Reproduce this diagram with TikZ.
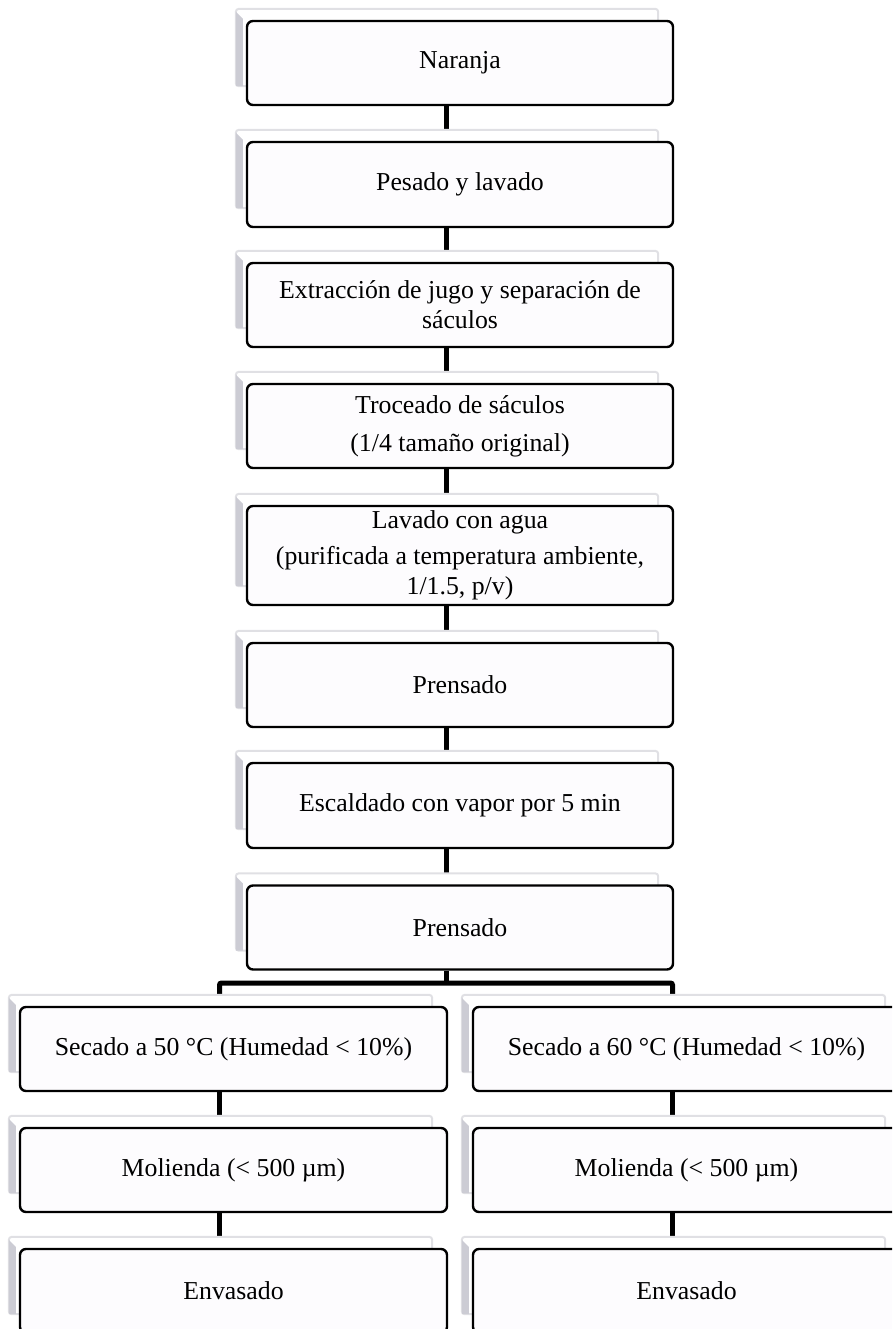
\documentclass[tikz,border=0pt]{standalone}
\usepackage{fontspec}
\setmainfont{Liberation Serif}
\usetikzlibrary{calc}
\pgfdeclarelayer{bg}
\pgfdeclarelayer{shad}
\pgfsetlayers{bg,shad,main}
\definecolor{shadband}{RGB}{204,204,212}
\definecolor{shadedge}{RGB}{224,224,228}
\definecolor{boxfill}{RGB}{253,252,254}
\tikzset{
  proc/.style={draw=black, line width=2.4pt, rounded corners=6pt, fill=boxfill,
    align=center, font=\fontsize{25.8}{30}\selectfont, inner sep=0pt, minimum height=84pt},
  mainw/.style={minimum width=426pt},
  sidew/.style={minimum width=427pt},
  conn/.style={line width=5pt, draw=black},
}
\newcommand\shadowof[1]{%
  \coordinate (#1-stl) at ($(#1.north west)+(-10pt,11pt)$);
  \coordinate (#1-sbr) at ($(#1.south east)+(-16pt,20pt)$);
  \begin{pgfonlayer}{shad}
    \fill[white] (#1-stl) rectangle (#1-sbr);
    \draw[shadedge, line width=2pt, rounded corners=3pt] (#1-stl) rectangle (#1-sbr);
    \fill[shadband] ($(#1-stl)+(0,-3pt)$) -- ($(#1-stl)+(7pt,-10pt)$)
      -- ($(#1-stl |- #1-sbr)+(7pt,0)$) -- (#1-stl |- #1-sbr) -- cycle;
  \end{pgfonlayer}}
\begin{document}
\begin{tikzpicture}[x=1pt, y=-1pt]
\useasboundingbox (0,0) rectangle (892,1329);
\clip (0,0) rectangle (892,1329);
% main column
\node[proc, mainw] (n1) at (460,63) {Naranja};
\node[proc, mainw, minimum height=85pt] (n2) at (460,184.5) {Pesado y lavado};
\node[proc, mainw] (n3) at (460,305) {Extracción de jugo y separación de\\sáculos};
\node[proc, mainw] (n4) at (460,426) {Troceado de sáculos\\[8pt](1/4 tamaño original)};
\node[proc, mainw, minimum height=99pt] (n5) at (460,555.5) {Lavado con agua\\[6pt](purificada a temperatura ambiente,\\1/1.5, p/v)};
\node[proc, mainw] (n6) at (460,685) {Prensado};
\node[proc, mainw, minimum height=85pt] (n7) at (460,805.5) {Escaldado con vapor por 5 min};
\node[proc, mainw] (n8) at (460,927.5) {Prensado};
% left branch
\node[proc, sidew] (l1) at (233.5,1049) {Secado a 50 °C (Humedad < 10\%)};
\node[proc, sidew] (l2) at (233.5,1170) {Molienda (< 500 µm)};
\node[proc, sidew] (l3) at (233.5,1291) {Envasado};
% right branch
\node[proc, sidew] (r1) at (686.5,1049) {Secado a 60 °C (Humedad < 10\%)};
\node[proc, sidew] (r2) at (686.5,1170) {Molienda (< 500 µm)};
\node[proc, sidew] (r3) at (686.5,1291) {Envasado};
% shadows
\shadowof{n1}\shadowof{n2}\shadowof{n3}\shadowof{n4}\shadowof{n5}\shadowof{n6}\shadowof{n7}\shadowof{n8}
\shadowof{l1}\shadowof{l2}\shadowof{l3}
\shadowof{r1}\shadowof{r2}\shadowof{r3}
% connectors
\coordinate (br) at (446,983);
\begin{pgfonlayer}{bg}
  \draw[conn] ([xshift=-14pt]n1.south) -- ([xshift=-14pt]n2.north);
  \draw[conn] ([xshift=-14pt]n2.south) -- ([xshift=-14pt]n3.north);
  \draw[conn] ([xshift=-14pt]n3.south) -- ([xshift=-14pt]n4.north);
  \draw[conn] ([xshift=-14pt]n4.south) -- ([xshift=-14pt]n5.north);
  \draw[conn] ([xshift=-14pt]n5.south) -- ([xshift=-14pt]n6.north);
  \draw[conn] ([xshift=-14pt]n6.south) -- ([xshift=-14pt]n7.north);
  \draw[conn] ([xshift=-14pt]n7.south) -- ([xshift=-14pt]n8.north);
  \draw[conn] ([xshift=-14pt]n8.south) -- (br);
  \draw[conn, rounded corners=2pt] ([xshift=-14pt]l1.north) |- (br) -| ([xshift=-14pt]r1.north);
  \draw[conn] ([xshift=-14pt]l1.south) -- ([xshift=-14pt]l2.north);
  \draw[conn] ([xshift=-14pt]l2.south) -- ([xshift=-14pt]l3.north);
  \draw[conn] ([xshift=-14pt]r1.south) -- ([xshift=-14pt]r2.north);
  \draw[conn] ([xshift=-14pt]r2.south) -- ([xshift=-14pt]r3.north);
\end{pgfonlayer}
\end{tikzpicture}
\end{document}
